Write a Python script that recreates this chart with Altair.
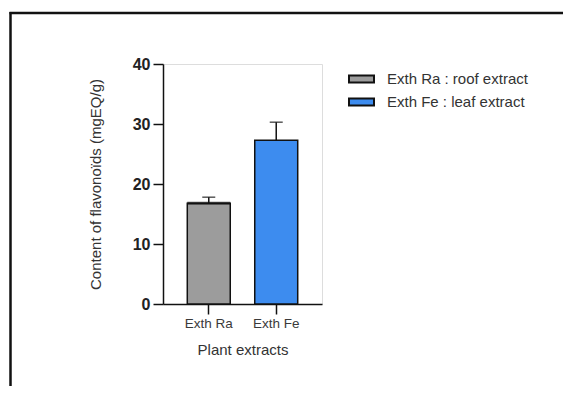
import altair as alt
import pandas as pd

categories = ["Exth Ra", "Exth Fe"]
legend_labels = ["Exth Ra : roof extract", "Exth Fe : leaf extract"]
means = [16.8, 27.3]
err_top = [17.8, 30.3]
colors = ["#9c9c9c", "#3d8cef"]

df = pd.DataFrame({
    "cat": categories,
    "label": legend_labels,
    "mean": means,
    "err": err_top,
})

FONT = "Liberation Sans"
W, H = 159, 240

xenc = alt.X(
    "cat:N",
    sort=categories,
    scale=alt.Scale(paddingInner=0.363, paddingOuter=0.36),
    axis=alt.Axis(
        title="Plant extracts",
        labelAngle=0,
        labelFont=FONT,
        labelFontSize=13.5,
        labelColor="#3a3a3a",
        labelPadding=2,
        tickSize=10,
        tickWidth=1.5,
        tickColor="#111111",
        domainColor="#111111",
        domainWidth=1.5,
        titleFont=FONT,
        titleFontSize=15,
        titleFontWeight="normal",
        titleColor="#333333",
        titlePadding=13,
    ),
)

base = alt.Chart(df)

bars = base.mark_bar(stroke="#111111", strokeWidth=1.5).encode(
    x=xenc,
    y=alt.Y(
        "mean:Q",
        scale=alt.Scale(domain=[0, 40], nice=False),
        axis=alt.Axis(
            title="Content of flavonoïds (mgEQ/g)",
            values=[0, 10, 20, 30, 40],
            grid=False,
            labelFont=FONT,
            labelFontSize=16,
            labelFontWeight="bold",
            labelColor="#222222",
            labelPadding=3,
            tickSize=10,
            tickWidth=1.5,
            tickColor="#111111",
            domainColor="#111111",
            domainWidth=1.5,
            titleFont=FONT,
            titleFontSize=15,
            titleFontWeight="normal",
            titleColor="#333333",
            titlePadding=29,
        ),
    ),
    color=alt.Color(
        "label:N",
        scale=alt.Scale(domain=legend_labels, range=colors),
        legend=alt.Legend(
            title=None,
            orient="none",
            legendX=185,
            legendY=1.5,
            symbolType="M-1,-0.28H1V0.28H-1Z",
            symbolSize=625,
            symbolStrokeColor="#111111",
            symbolStrokeWidth=2,
            labelFont=FONT,
            labelFontSize=15,
            labelColor="#333333",
            labelOffset=12,
            rowPadding=1,
        ),
    ),
)

topline = base.transform_filter(alt.datum.cat == "Exth Ra").mark_tick(
    color="#111111", thickness=3, size=43
).encode(x=alt.X("cat:N", sort=categories), y="mean:Q")

err_rule = base.mark_rule(color="#111111", strokeWidth=1.5).encode(
    x=alt.X("cat:N", sort=categories), y="mean:Q", y2="err:Q"
)
err_cap = base.mark_tick(color="#111111", thickness=1.5, size=13).encode(
    x=alt.X("cat:N", sort=categories), y="err:Q"
)

frame_df = pd.DataFrame({"k": [0]})
frame_left = alt.Chart(frame_df).mark_rule(color="#111111", strokeWidth=2.5).encode(
    x=alt.value(-152.5), x2=alt.value(-152.5), y=alt.value(-52), y2=alt.value(400)
)
frame_top = alt.Chart(frame_df).mark_rule(color="#111111", strokeWidth=2.5).encode(
    x=alt.value(-153.5), x2=alt.value(420), y=alt.value(-51), y2=alt.value(-51)
)

chart = alt.layer(bars, topline, err_rule, err_cap, frame_left, frame_top).properties(
    width=W,
    height=H,
    autosize=alt.AutoSizeParams(type="none"),
    padding={"left": 155, "top": 56, "right": 241, "bottom": 82},
).configure_view(stroke=None).configure(background="white")

chart.save("out.html", embed_options={"renderer": "svg", "actions": False})
